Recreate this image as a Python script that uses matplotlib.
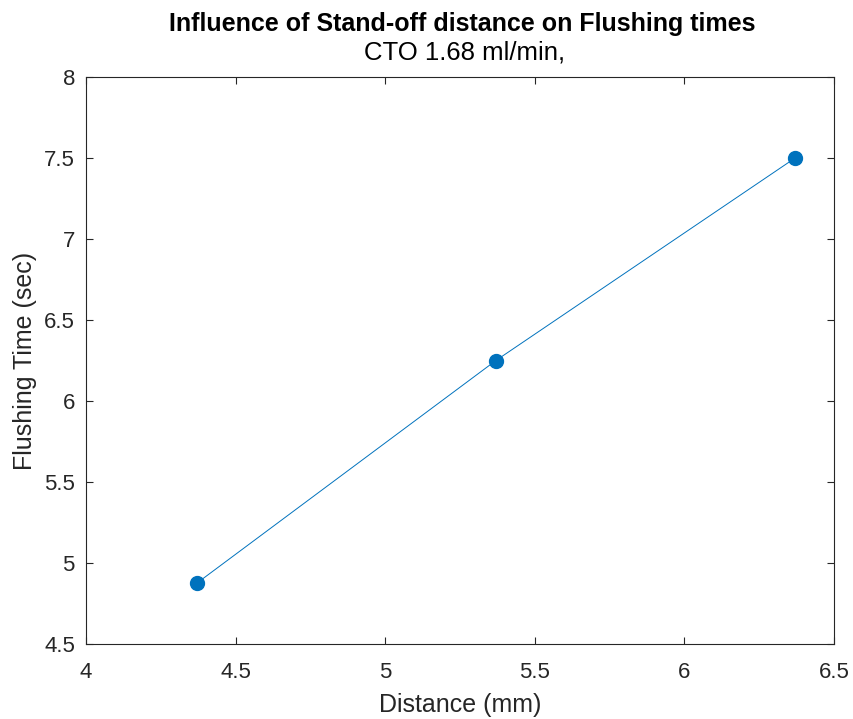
import matplotlib.pyplot as plt

distance = [4.37, 5.37, 6.37]
flush_time = [4.875, 6.25, 7.5]
x_ticks = [4, 4.5, 5, 5.5, 6, 6.5]
y_ticks = [4.5, 5, 5.5, 6, 6.5, 7, 7.5, 8]

plt.rcParams['font.family'] = ['Liberation Sans', 'DejaVu Sans']

fig = plt.figure(figsize=(8.54, 7.19), dpi=100)
ax = fig.add_axes([0.1007, 0.1043, 0.8759, 0.7886])

ax.plot(distance, flush_time, color='#0072BD', linewidth=0.7,
        marker='o', markersize=10, markerfacecolor='#0072BD', markeredgecolor='#0072BD')

ax.set_xlim(4, 6.5)
ax.set_ylim(4.5, 8)
ax.set_xticks(x_ticks)
ax.set_yticks(y_ticks)
ax.set_xticklabels([f"{t:g}" for t in x_ticks])
ax.set_yticklabels([f"{t:g}" for t in y_ticks])
ax.tick_params(direction='in', top=True, right=True, length=5, width=0.8,
               labelsize=16, colors='#262626')
ax.tick_params(axis='x', pad=13)
ax.tick_params(axis='y', pad=8)
for s in ax.spines.values():
    s.set_color('#262626')
    s.set_linewidth(0.8)

ax.set_xlabel("Distance (mm)", fontsize=18, color='#262626', labelpad=7)
ax.set_ylabel("Flushing Time (sec)", fontsize=18, color='#262626', labelpad=5)

fig.text(0.541, 0.967, "Influence of Stand-off distance on Flushing times",
         ha='center', va='center', fontsize=18, fontweight='bold', color='black')
fig.text(0.544, 0.927, "CTO 1.68 ml/min,", ha='center', va='center',
         fontsize=18.5, color='black')

fig.savefig("out.png", dpi=100)
